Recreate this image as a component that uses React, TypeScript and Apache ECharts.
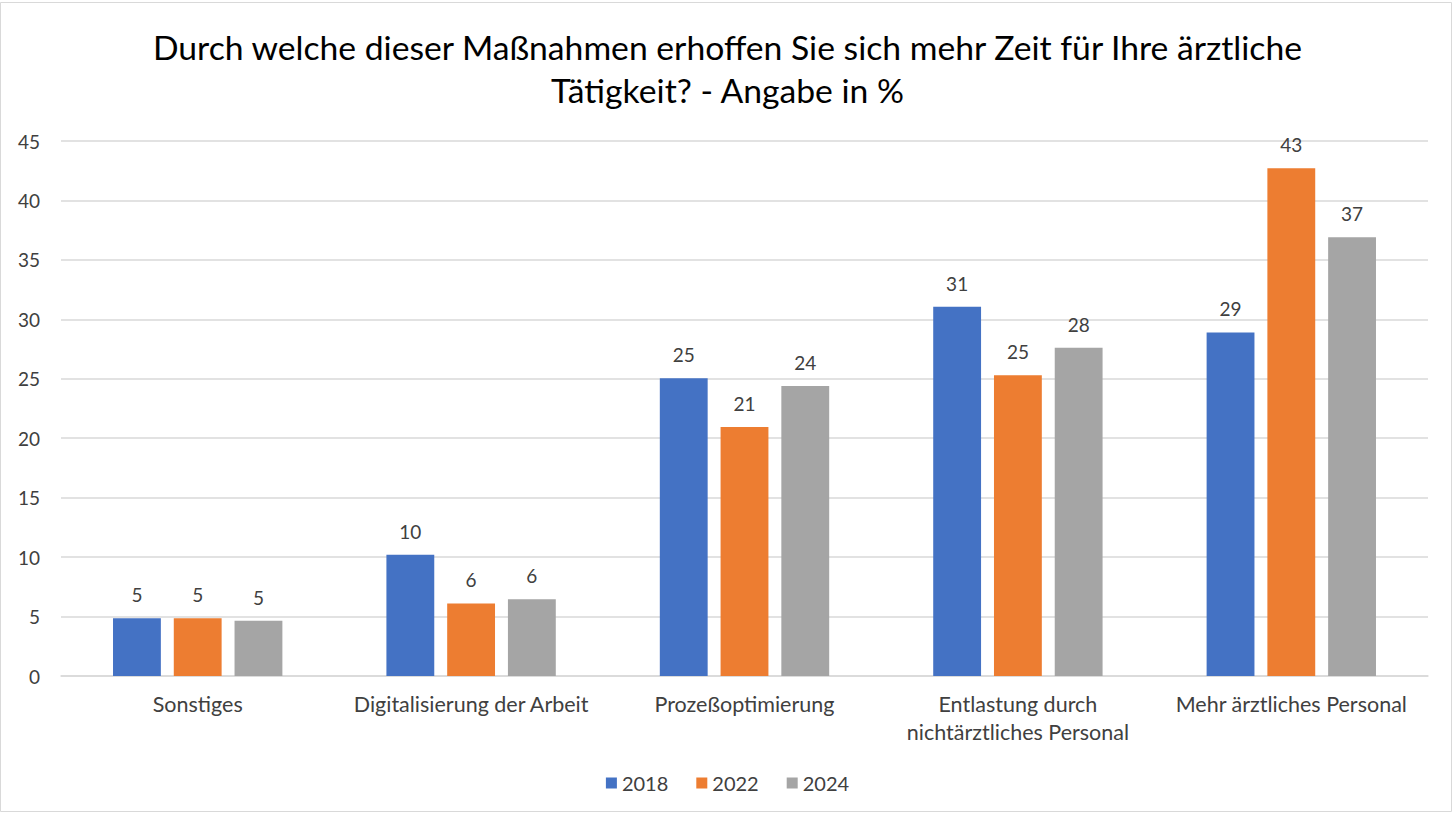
import React, { useEffect, useRef } from "react";
import * as echarts from "echarts";

const categories = [
  "Sonstiges",
  "Digitalisierung der Arbeit",
  "Prozeßoptimierung",
  "Entlastung durch\nnichtärztliches Personal",
  "Mehr ärztliches Personal",
];
const years = ["2018", "2022", "2024"];
const values2018 = [4.85, 10.2, 25.05, 31.05, 28.9];
const values2022 = [4.85, 6.1, 20.95, 25.3, 42.7];
const values2024 = [4.65, 6.45, 24.4, 27.6, 36.9];
const yTicks = [0, 5, 10, 15, 20, 25, 30, 35, 40, 45];
const colors = ["#4472C4", "#ED7D31", "#A5A5A5"];

const FONT = "Lato, 'Open Sans', sans-serif";

export default function App() {
  const ref = useRef<HTMLDivElement>(null);
  useEffect(() => {
    document.body.style.margin = "0";
    const chart = echarts.init(ref.current!, null, { renderer: "svg" });
    const seriesData = [values2018, values2022, values2024];
    chart.setOption({
      animation: false,
      backgroundColor: "#ffffff",
      textStyle: { fontFamily: FONT },
      title: {
        text: "Durch welche dieser Maßnahmen erhoffen Sie sich mehr Zeit für Ihre ärztliche\nTätigkeit? - Angabe in %",
        left: "center",
        top: 20,
        textStyle: {
          fontFamily: FONT,
          fontSize: 33.7,
          fontWeight: "normal",
          color: "#000000",
          lineHeight: 43,
        },
      },
      graphic: [
        {
          type: "rect",
          shape: { x: 0.5, y: 2.5, width: 1451, height: 809 },
          style: { fill: "none", stroke: "#d9d9d9", lineWidth: 1 },
          silent: true,
        },
      ],
      legend: {
        data: years,
        bottom: 24,
        left: "center",
        itemWidth: 11,
        itemHeight: 11,
        itemGap: 28,
        icon: "rect",
        textStyle: { fontFamily: FONT, fontSize: 20, color: "#404040" },
      },
      grid: { left: 61, right: 27, top: 141, bottom: 146, containLabel: false },
      xAxis: {
        type: "category",
        data: categories,
        axisLine: { show: true, lineStyle: { color: "#d9d9d9", width: 1.5 } },
        axisTick: { show: false },
        axisLabel: {
          interval: 0,
          margin: 14,
          fontFamily: FONT,
          fontSize: 21.5,
          color: "#404040",
          lineHeight: 28,
        },
      },
      yAxis: {
        type: "value",
        min: 0,
        max: 45,
        interval: 5,
        axisLine: { show: false },
        axisTick: { show: false },
        splitLine: { lineStyle: { color: "#d9d9d9", width: 1.5 } },
        axisLabel: {
          margin: 21,
          fontFamily: FONT,
          fontSize: 19,
          color: "#404040",
          formatter: (v: number) => (yTicks.includes(v) ? String(v) : ""),
        },
      },
      series: years.map((y, i) => ({
        name: y,
        type: "bar",
        data: seriesData[i],
        barWidth: "17.5%",
        barGap: "27%",
        itemStyle: { color: colors[i] },
        label: {
          show: true,
          position: "top",
          distance: 14,
          fontFamily: FONT,
          fontSize: 19,
          color: "#404040",
          formatter: (p: any) => String(Math.round(p.value)),
        },
      })),
    });
    return () => chart.dispose();
  }, []);
  return (
    <div
      ref={ref}
      style={{ position: "absolute", left: 0, top: 0, width: 1455, height: 822 }}
    />
  );
}
